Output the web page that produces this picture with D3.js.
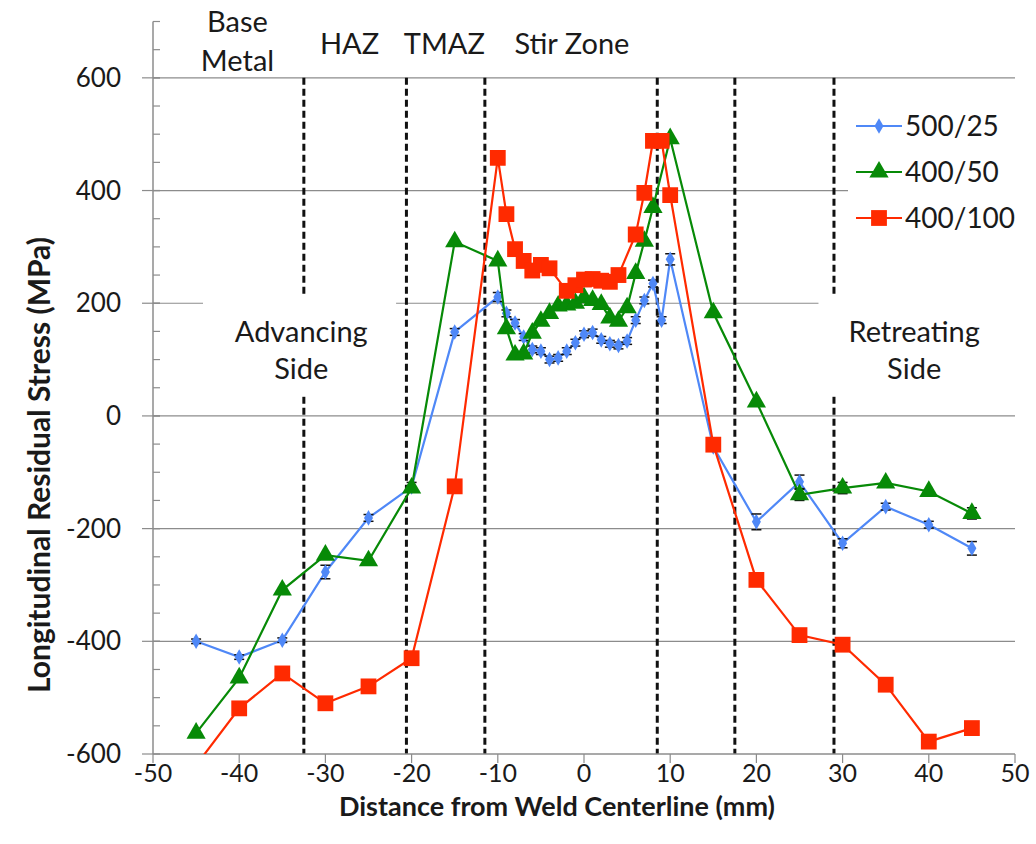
<!DOCTYPE html>
<html>
<head>
<meta charset="utf-8">
<script src="https://cdn.jsdelivr.net/npm/d3@7"></script>
<style>
  html, body { margin: 0; padding: 0; background: #fff; }
  svg { display: block; font-family: Lato, "Open Sans", sans-serif; }
</style>
</head>
<body>
<svg id="chart" width="1036" height="844"></svg>
<script>
// Distance from weld centerline (mm) and longitudinal residual stress (MPa)
const xBlue = [-45,-40,-35,-30,-25,-20,-15,-10,-9,-8,-7,-6,-5,-4,-3,-2,-1,0,1,2,3,4,5,6,7,8,9,10,15,20,25,30,35,40,45];
const yBlue = [-400,-428,-398,-277,-181,-126,149,211,182,165,140,118,115,100,103,115,130,145,148,135,128,125,133,170,205,235,170,278,-55,-188,-117,-226,-161,-193,-235];
const eBlue = [4,4,4,12,6,8,6,8,6,6,6,6,6,6,6,6,6,6,6,6,6,6,6,6,6,6,6,10,6,14,12,8,6,6,12];

const xGreen = [-45,-40,-35,-30,-25,-20,-15,-10,-9,-8,-7,-6,-5,-4,-3,-2,-1,0,1,2,3,4,5,6,7,8,10,15,20,25,30,35,40,45];
const yGreen = [-563,-465,-309,-247,-257,-128,309,275,155,108,110,147,168,182,195,197,200,210,205,198,174,168,192,253,310,370,492,183,25,-140,-128,-119,-134,-173];
const eGreen = [0,0,0,0,0,0,0,0,0,0,0,0,0,0,0,0,0,0,0,0,0,0,0,0,0,0,0,0,0,10,10,0,0,10];

const xRed = [-45,-40,-35,-30,-25,-20,-15,-10,-9,-8,-7,-6,-5,-4,-2,-1,0,1,2,3,4,6,7,8,9,10,15,20,25,30,35,40,45];
const yRed = [-620,-519,-457,-510,-480,-430,-125,458,358,296,275,258,268,262,222,232,242,243,240,238,250,322,396,488,488,392,-51,-291,-389,-406,-477,-578,-554];

const seriesNames = ["500/25", "400/50", "400/100"];
const xTicks = [-50,-40,-30,-20,-10,0,10,20,30,40,50];
const yTicks = [-600,-400,-200,0,200,400,600];
const zoneBounds = [-32.5,-20.6,-11.5,8.5,17.5,29];
const zoneLabels = [["Base","Metal"],["HAZ"],["TMAZ"],["Stir Zone"]];
const zoneLabelX = [-40.2,-27.2,-16.2,-1.4];
const sideLabels = [["Advancing","Side"],["Retreating","Side"]];
const sideLabelX = [-32.8,38.3];

const svg = d3.select("#chart");
const x = d3.scaleLinear().domain([-50, 50]).range([153, 1015]);
const y = d3.scaleLinear().domain([-600, 700]).range([754, 21.5]);

const gridColor = "#8c8c8c";
const axisColor = "#8c8c8c";
const textColor = "#1a1a1a";

// horizontal gridlines
svg.append("g").selectAll("line").data(yTicks.filter(v => v > -600)).join("line")
  .attr("x1", x(-50)).attr("x2", x(50))
  .attr("y1", d => y(d)).attr("y2", d => y(d))
  .attr("stroke", gridColor).attr("stroke-width", 1.2);

// zone boundaries
svg.append("g").selectAll("line").data(zoneBounds).join("line")
  .attr("x1", d => x(d)).attr("x2", d => x(d))
  .attr("y1", y(600)).attr("y2", y(-600))
  .attr("stroke", "#111").attr("stroke-width", 3).attr("stroke-dasharray", "7,4");

// side labels on white panels
const sideBoxes = [[x(-44.2), x(-21.8)], [x(27.2), x(50.2)]];
sideLabels.forEach((lines, i) => {
  svg.append("rect").attr("x", sideBoxes[i][0]).attr("y", y(215))
    .attr("width", sideBoxes[i][1] - sideBoxes[i][0]).attr("height", y(35) - y(215))
    .attr("fill", "#fff");
  const t = svg.append("text").attr("text-anchor", "middle").attr("fill", textColor)
    .attr("font-size", 29);
  lines.forEach((s, j) => t.append("tspan").attr("x", x(sideLabelX[i])).attr("y", y(131) + j * 37).text(s));
});

// axes
const axisG = svg.append("g");
axisG.append("line").attr("x1", x(-50)).attr("x2", x(-50)).attr("y1", y(700)).attr("y2", y(-600))
  .attr("stroke", axisColor).attr("stroke-width", 1.5);
axisG.append("line").attr("x1", x(-50)).attr("x2", x(50)).attr("y1", y(-600)).attr("y2", y(-600))
  .attr("stroke", axisColor).attr("stroke-width", 1.5);
// y minor ticks
axisG.selectAll(".ymin").data(d3.range(-550, 701, 50)).join("line")
  .attr("x1", x(-50)).attr("x2", x(-50) + 7)
  .attr("y1", d => y(d)).attr("y2", d => y(d))
  .attr("stroke", axisColor).attr("stroke-width", 1.2);
// y major ticks
axisG.selectAll(".ymaj").data(yTicks).join("line")
  .attr("x1", x(-50) - 11).attr("x2", x(-50) + 7)
  .attr("y1", d => y(d)).attr("y2", d => y(d))
  .attr("stroke", axisColor).attr("stroke-width", 1.2);
// x major ticks
axisG.selectAll(".xmaj").data(xTicks).join("line")
  .attr("x1", d => x(d)).attr("x2", d => x(d))
  .attr("y1", y(-600)).attr("y2", y(-600) + 9)
  .attr("stroke", axisColor).attr("stroke-width", 1.2);

svg.append("g").selectAll("text").data(yTicks).join("text")
  .attr("x", 121).attr("y", d => y(d)).attr("dy", "0.35em")
  .attr("text-anchor", "end").attr("font-size", 26).attr("fill", textColor)
  .text(d => d);
svg.append("g").selectAll("text").data(xTicks).join("text")
  .attr("x", d => x(d)).attr("y", 773).attr("dy", "0.35em")
  .attr("text-anchor", "middle").attr("font-size", 25).attr("fill", textColor)
  .text(d => d);

svg.append("text").attr("x", 557).attr("y", 816).attr("text-anchor", "middle")
  .attr("font-size", 27).attr("font-weight", "bold").attr("fill", textColor)
  .text("Distance from Weld Centerline (mm)");
svg.append("text").attr("transform", "translate(50,465) rotate(-90)").attr("text-anchor", "middle")
  .attr("font-size", 30).attr("font-weight", "bold").attr("fill", textColor)
  .text("Longitudinal Residual Stress (MPa)");

// zone names above the plot
zoneLabels.forEach((lines, i) => {
  const t = svg.append("text").attr("text-anchor", "middle").attr("fill", textColor).attr("font-size", 29);
  const y0 = lines.length === 2 ? 32 : 54;
  lines.forEach((s, j) => t.append("tspan").attr("x", x(zoneLabelX[i])).attr("y", y0 + j * 39).text(s));
});

// data
svg.append("clipPath").attr("id", "plotClip").append("rect")
  .attr("x", x(-50)).attr("y", y(700)).attr("width", x(50) - x(-50)).attr("height", y(-600) - y(700));

const series = [
  { name: seriesNames[0], xs: xBlue, ys: yBlue, es: eBlue, color: "#4f88f7", shape: d3.symbolDiamond, size: 70 },
  { name: seriesNames[1], xs: xGreen, ys: yGreen, es: eGreen, color: "#078a07", shape: d3.symbolTriangle, size: 160 },
  { name: seriesNames[2], xs: xRed, ys: yRed, es: null, color: "#ff2a00", shape: d3.symbolSquare, size: 250 }
];

const plot = svg.append("g").attr("clip-path", "url(#plotClip)");
const line = d3.line().x(d => x(d[0])).y(d => y(d[1]));

series.forEach(s => {
  const pts = s.xs.map((v, i) => [v, s.ys[i], s.es ? s.es[i] : 0]);
  const g = plot.append("g");
  g.append("path").datum(pts).attr("d", line)
    .attr("fill", "none").attr("stroke", s.color).attr("stroke-width", 2.2);
  // error bars
  const eb = g.selectAll(".eb").data(pts.filter(p => p[2] > 0)).join("g");
  eb.append("line").attr("x1", p => x(p[0])).attr("x2", p => x(p[0]))
    .attr("y1", p => y(p[1] - p[2])).attr("y2", p => y(p[1] + p[2])).attr("stroke", "#111").attr("stroke-width", 1.2);
  [-1, 1].forEach(sg => eb.append("line")
    .attr("x1", p => x(p[0]) - 5).attr("x2", p => x(p[0]) + 5)
    .attr("y1", p => y(p[1] + sg * p[2])).attr("y2", p => y(p[1] + sg * p[2]))
    .attr("stroke", "#111").attr("stroke-width", 1.5));
  g.selectAll(".m").data(pts).join("path")
    .attr("transform", p => `translate(${x(p[0])},${y(p[1])})`)
    .attr("d", d3.symbol().type(s.shape).size(s.size))
    .attr("fill", s.color);
});

// legend
const legend = svg.append("g");
legend.append("rect").attr("x", 848).attr("y", 100).attr("width", 188).attr("height", 150).attr("fill", "#fff");
series.forEach((s, i) => {
  const ly = 126 + i * 46;
  legend.append("line").attr("x1", 856).attr("x2", 902).attr("y1", ly).attr("y2", ly)
    .attr("stroke", s.color).attr("stroke-width", 2.2);
  legend.append("path").attr("transform", `translate(879,${ly})`)
    .attr("d", d3.symbol().type(s.shape).size(s.size)).attr("fill", s.color);
  legend.append("text").attr("x", 905).attr("y", ly).attr("dy", "0.36em")
    .attr("font-size", 28).attr("fill", textColor).text(s.name);
});
</script>
</body>
</html>
